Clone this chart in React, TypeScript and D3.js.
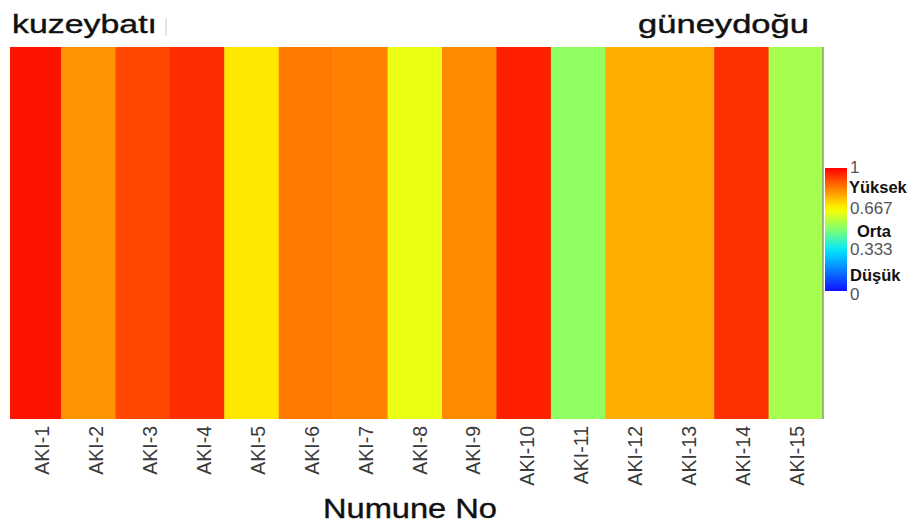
import React from "react";
import * as d3 from "d3";

const samples = ["AKI-1","AKI-2","AKI-3","AKI-4","AKI-5","AKI-6","AKI-7","AKI-8","AKI-9","AKI-10","AKI-11","AKI-12","AKI-13","AKI-14","AKI-15"];
const values = [0.976, 0.805, 0.906, 0.94, 0.697, 0.843, 0.833, 0.637, 0.82, 0.958, 0.521, 0.773, 0.773, 0.937, 0.55];
const colorStops = [0, 0.333, 0.5, 0.667, 1];
const colorRange = ["#1010ff", "#00e8ff", "#80ff70", "#ffff00", "#ff0000"];
const legendTicks = [
  { v: 1, label: "1" },
  { v: 0.667, label: "0.667" },
  { v: 0.333, label: "0.333" },
  { v: 0, label: "0" },
];
const legendLevels = ["Yüksek", "Orta", "Düşük"];
const xTitle = "Numune No";
const leftLabel = "kuzeybatı";
const rightLabel = "güneydoğu";

const W = 920, H = 524;
const plot = { left: 10, right: 823, top: 47, bottom: 419 };
const bar = { x: 825, w: 22, top: 168, bottom: 291 };
const FONT = "'Liberation Sans', Arial, sans-serif";

export default function App() {
  const x = d3.scaleBand<string>().domain(samples).range([6.6, plot.right]).padding(0);
  const xl = d3.scalePoint<string>().domain(samples).range([42, 797]);
  const color = d3.scaleLinear<string>().domain(colorStops).range(colorRange).interpolate(d3.interpolateRgb);
  const ly = d3.scaleLinear().domain([0, 1]).range([bar.bottom, bar.top]);

  const gradStops = d3.range(0, 1.0001, 0.05);
  const tickOffset = (v: number) => (v === 1 ? 4.5 : v === 0 ? 9 : 5);

  return (
    <svg width={W} height={H} style={{ position: "absolute", left: 0, top: 0, background: "#fff" }} fontFamily={FONT}>
      <defs>
        <clipPath id="plotclip">
          <rect x={plot.left} y={plot.top} width={plot.right - plot.left} height={plot.bottom - plot.top} />
        </clipPath>
        <linearGradient id="cbar" x1="0" y1="1" x2="0" y2="0">
          {gradStops.map((t) => (
            <stop key={t} offset={t} stopColor={color(t)} />
          ))}
        </linearGradient>
      </defs>

      {/* top labels */}
      <text x={12} y={33} fontSize={26} fill="#111" stroke="#111" strokeWidth={0.4} textLength={145} lengthAdjust="spacingAndGlyphs">{leftLabel}</text>
      <line x1={166} x2={166} y1={18} y2={36} stroke="#ddd" strokeWidth={1.5} />
      <text x={638} y={33} fontSize={26} fill="#111" stroke="#111" strokeWidth={0.4} textLength={171} lengthAdjust="spacingAndGlyphs">{rightLabel}</text>

      {/* heatmap */}
      <g clipPath="url(#plotclip)">
        {samples.map((s, i) => (
          <rect key={s} x={x(s)!} y={plot.top} width={x.bandwidth() + 0.5} height={plot.bottom - plot.top} fill={color(values[i])} />
        ))}
      </g>
      <line x1={plot.right} x2={plot.right} y1={plot.top} y2={plot.bottom} stroke="#8a9a78" strokeWidth={1.5} />

      {/* x labels */}
      {samples.map((s) => (
        <text key={s} transform={`translate(${xl(s)},426) rotate(-90)`} textAnchor="end" dy="0.36em" fontSize={19.5} fill="#3a3a3a">{s}</text>
      ))}
      <text x={410} y={518} textAnchor="middle" fontSize={28} fill="#111" stroke="#111" strokeWidth={0.4} textLength={174} lengthAdjust="spacingAndGlyphs">{xTitle}</text>

      {/* color bar */}
      <rect x={bar.x} y={bar.top} width={bar.w} height={bar.bottom - bar.top} fill="url(#cbar)" />
      {legendTicks.map((t) => (
        <text key={t.label} x={850} y={ly(t.v) + tickOffset(t.v)} fontSize={17} fill="#555">{t.label}</text>
      ))}
      <text x={849} y={192.5} fontSize={16.5} fontWeight="bold" fill="#111">{legendLevels[0]}</text>
      <text x={857} y={237} fontSize={16.5} fontWeight="bold" fill="#111">{legendLevels[1]}</text>
      <text x={850} y={281} fontSize={16.5} fontWeight="bold" fill="#111">{legendLevels[2]}</text>
    </svg>
  );
}
